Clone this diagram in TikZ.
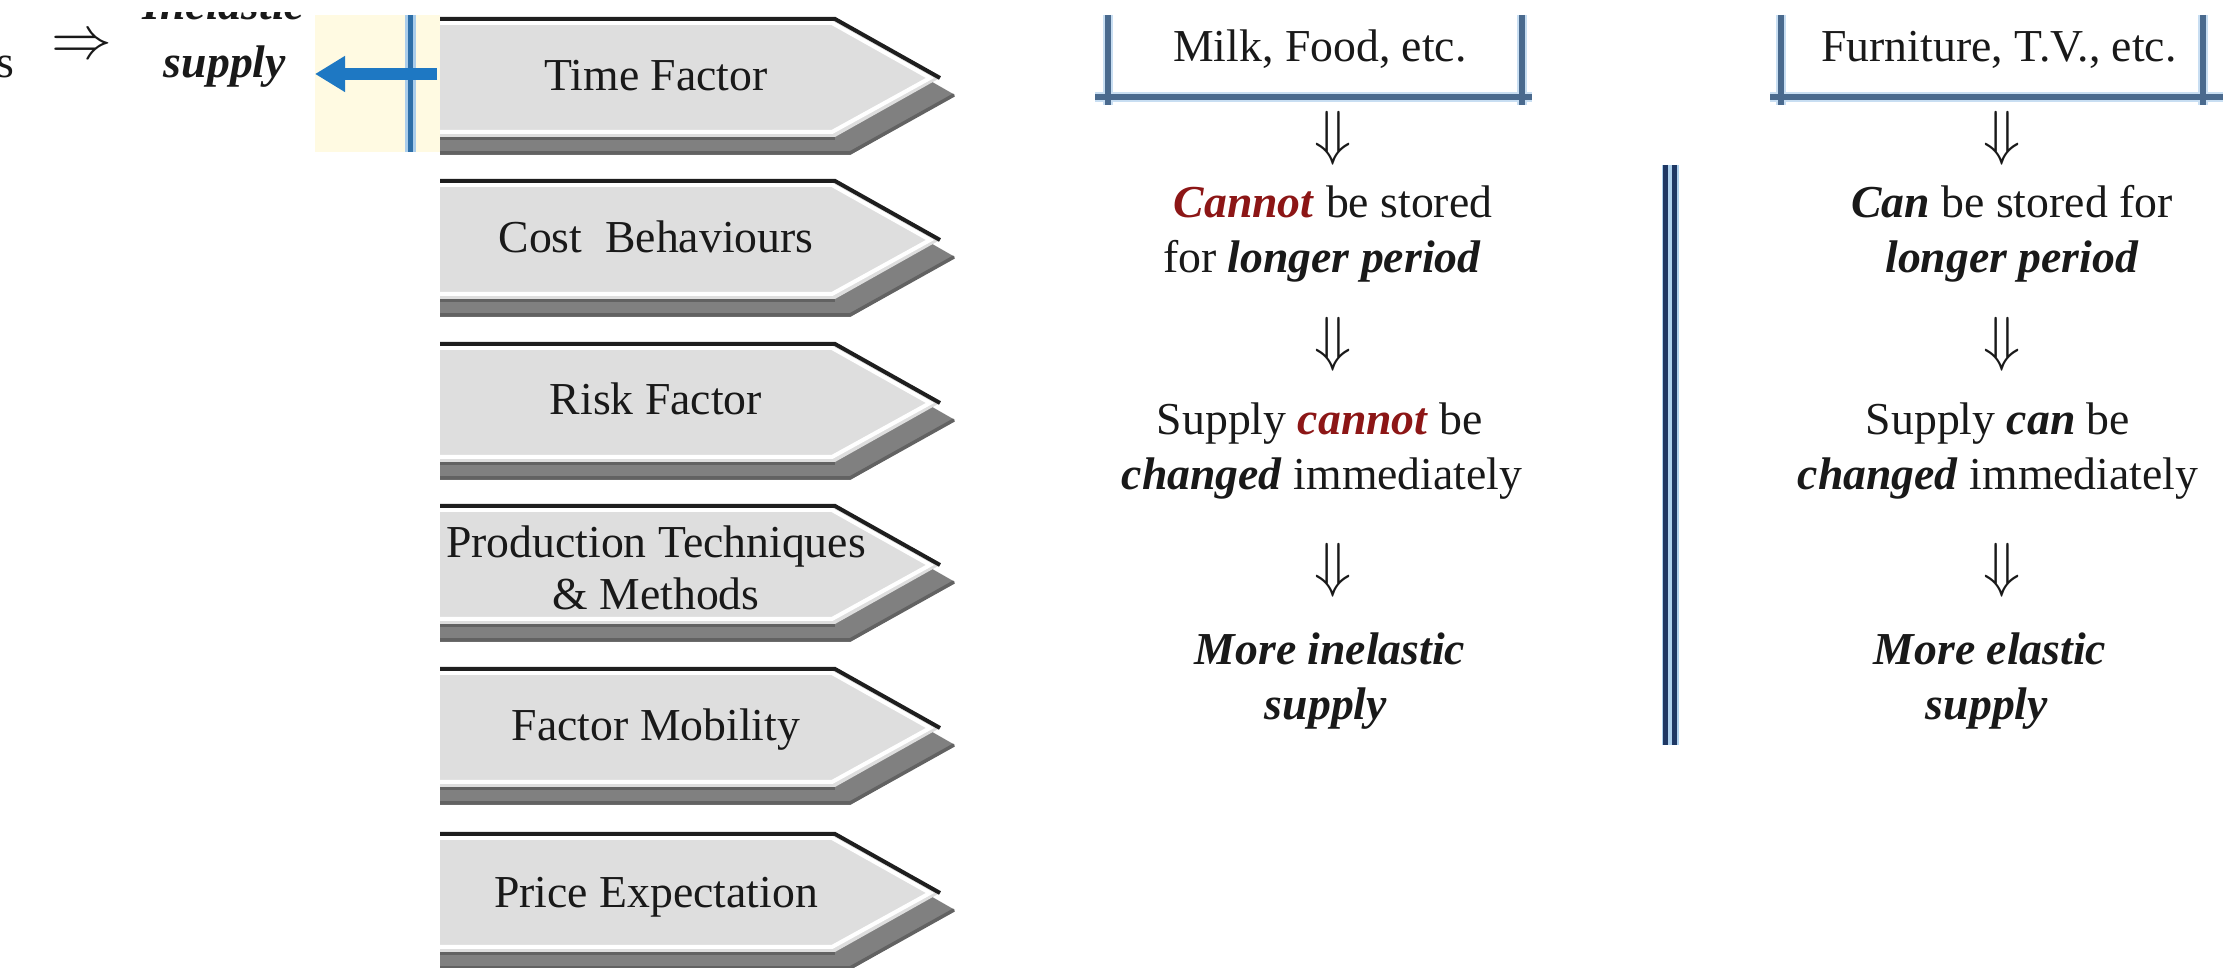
\documentclass[tikz,border=0pt]{standalone}
\usepackage{fontspec}
\setmainfont{Liberation Serif}
\usetikzlibrary{arrows.meta}

\definecolor{bannerfill}{RGB}{222,222,222}
\definecolor{bannershade}{RGB}{128,128,128}
\definecolor{bannershadeedge}{RGB}{98,98,98}
\definecolor{bannerline}{RGB}{30,30,30}
\definecolor{panelfill}{RGB}{255,250,226}
\definecolor{panelline}{RGB}{46,111,168}
\definecolor{panelhalo}{RGB}{170,205,235}
\definecolor{arrowblue}{RGB}{30,120,195}
\definecolor{bracketline}{RGB}{74,106,142}
\definecolor{brackethalo}{RGB}{200,222,242}
\definecolor{dividernavy}{RGB}{31,56,100}
\definecolor{dividerhalo}{RGB}{175,210,238}
\definecolor{emphred}{RGB}{140,22,22}
\definecolor{inktext}{RGB}{25,25,25}

\newcommand{\bi}[1]{\textbf{\textit{#1}}}

\tikzset{
  txt/.style={font=\fontsize{13pt}{16pt}\selectfont, text=inktext, inner sep=0pt, anchor=base},
  sym/.style={font=\fontsize{16pt}{16pt}\selectfont, text=inktext, inner sep=0pt},
  brackethalo/.style={draw=brackethalo, line width=0.1cm},
  bracketrule/.style={draw=bracketline, line width=0.055cm},
}

\begin{document}
\begin{tikzpicture}[x=0.01cm,y=-0.01cm]
\useasboundingbox (0,0) rectangle (2223,968);
\clip (0,0) rectangle (2223,968);

% ---- fragment on the far left ----
\node[txt, anchor=base east] (cutword) at (15,78) {s};
\node[sym] (impl) at (82,47) {$\Rightarrow$};
\begin{scope}
  \clip (100,13) rectangle (310,120);
  \node[txt] (inel) at (224,20) {\bi{Inelastic}};
\end{scope}
\node[txt] (supl) at (225,78) {\bi{supply}};

% ---- cream panel with the blue pointer ----
\fill[panelfill] (315,15) rectangle (440,152);
\draw[panelhalo, line width=0.1cm] (410.5,15) -- (410.5,152);
\draw[panelline, line width=0.05cm] (410.5,15) -- (410.5,152);
\coordinate (ptrStart) at (437,74);
\coordinate (ptrEnd) at (315,74);
\draw[arrowblue, line width=0.12cm, -{Triangle[length=0.3cm,width=0.34cm]}] (ptrStart) -- (ptrEnd);

% ---- grey pentagon banners ----
\foreach \T in {18,180,343,505,668,833} {
  % drop shadow
  \fill[bannershade] (440,\T+17) -- (850,\T+17) -- (955,\T+77) -- (850,\T+137) -- (440,\T+137) -- cycle;
  \draw[bannershadeedge, line width=0.035cm] (440,\T+135) -- (850,\T+135) -- (954,\T+77);
  \draw[bannershadeedge, line width=0.03cm] (440,\T+121) -- (835,\T+121);
  % body
  \fill[bannerfill] (440,\T) -- (835,\T) -- (940,\T+60) -- (835,\T+119) -- (440,\T+119) -- cycle;
  % inner highlight
  \draw[white, line width=0.04cm] (440,\T+5) -- (832,\T+5) -- (930,\T+60) -- (832,\T+114) -- (440,\T+114);
  % dark top edge
  \draw[bannerline, line width=0.04cm] (440,\T+1) -- (835,\T+1) -- (940,\T+60);
}

\node[txt] (tf) at (656,91) {Time Factor};
\node[txt] (cb) at (656,253) {Cost~ Behaviours};
\node[txt] (rf) at (656,415) {Risk Factor};
\node[txt] (pt1) at (656,558) {Production Techniques};
\node[txt] (pt2) at (656,610) {\& Methods};
\node[txt] (fm) at (656,741) {Factor Mobility};
\node[txt] (pe) at (656,908) {Price Expectation};

% ---- perishable goods column ----
\draw[brackethalo] (1108,15) -- (1108,105);
\draw[brackethalo] (1522,15) -- (1522,105);
\draw[brackethalo] (1095,97) -- (1532,97);
\draw[bracketrule] (1108,15) -- (1108,105);
\draw[bracketrule] (1522,15) -- (1522,105);
\draw[bracketrule] (1095,97) -- (1532,97);

\node[txt] (milk) at (1320,62) {Milk, Food, etc.};
\node[sym] (la1) at (1333,138) {$\Downarrow$};
\node[txt] (ls1) at (1333,218) {\textcolor{emphred}{\bi{Cannot}} be stored};
\node[txt] (ls2) at (1322,273) {for \bi{longer period}};
\node[sym] (la2) at (1333,344) {$\Downarrow$};
\node[txt] (lc1) at (1320,435) {Supply \textcolor{emphred}{\bi{cannot}} be};
\node[txt] (lc2) at (1322,490) {\bi{changed} immediately};
\node[sym] (la3) at (1333,570) {$\Downarrow$};
\node[txt] (le1) at (1330,665) {\bi{More inelastic}};
\node[txt] (le2) at (1326,720) {\bi{supply}};

% ---- double divider ----
\draw[dividerhalo, line width=0.17cm] (1670.3,165) -- (1670.3,745);
\draw[dividernavy, line width=0.05cm] (1665.8,165) -- (1665.8,745);
\draw[dividernavy, line width=0.05cm] (1674.6,165) -- (1674.6,745);

% ---- durable goods column ----
\draw[brackethalo] (1781,15) -- (1781,105);
\draw[brackethalo] (2203,15) -- (2203,105);
\draw[brackethalo] (1770,97) -- (2223,97);
\draw[bracketrule] (1781,15) -- (1781,105);
\draw[bracketrule] (2203,15) -- (2203,105);
\draw[bracketrule] (1770,97) -- (2223,97);

\node[txt] (furn) at (1999,62) {Furniture, T.V., etc.};
\node[sym] (ra1) at (2002,138) {$\Downarrow$};
\node[txt] (rs1) at (2012,218) {\bi{Can} be stored for};
\node[txt] (rs2) at (2012,273) {\bi{longer period}};
\node[sym] (ra2) at (2002,344) {$\Downarrow$};
\node[txt] (rc1) at (1998,435) {Supply \bi{can} be};
\node[txt] (rc2) at (1998,490) {\bi{changed} immediately};
\node[sym] (ra3) at (2002,570) {$\Downarrow$};
\node[txt] (re1) at (1990,665) {\bi{More elastic}};
\node[txt] (re2) at (1987,720) {\bi{supply}};
\end{tikzpicture}
\end{document}
